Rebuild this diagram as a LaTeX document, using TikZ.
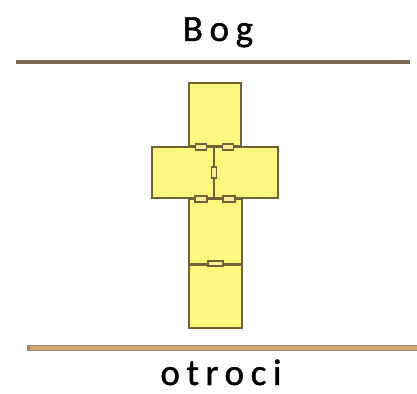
\documentclass[tikz,border=0pt]{standalone}
\usepackage{fontspec}
\setmainfont{Carlito}
\definecolor{tilefill}{RGB}{253,247,128}
\definecolor{tileedge}{RGB}{112,98,52}
\definecolor{hingefill}{RGB}{250,236,150}
\definecolor{topline}{RGB}{122,106,80}
\definecolor{baseedge}{RGB}{145,135,125}
\definecolor{basefill}{RGB}{214,166,112}
\begin{document}
\begin{tikzpicture}
		[x=1pt,y=-1pt,
		tile/.style={draw=tileedge,fill=tilefill,line width=2pt,
			inner sep=0pt,outer sep=0pt},
		hinge/.style={draw=tileedge,fill=hingefill,line width=1.6pt,
			inner sep=0pt,minimum width=11pt,minimum height=5.5pt},
		vhinge/.style={hinge,minimum width=5pt,minimum height=11pt},
		word/.style={font=\fontsize{37}{44}\selectfont\addfontfeatures{LetterSpace=18,FakeBold=1.2},
			inner sep=0pt,anchor=base}]
		\useasboundingbox[fill=white] (0,0) rectangle (417,393);
		\node[word] (bog) at (218,41) {Bog};
		\node[word] (otroci) at (221,385) {otroci};
		\draw[topline,line width=4.5pt] (16,62) -- (410,62);
		\draw[baseedge,line width=6.5pt] (27,348) -- (417,348);
		\draw[basefill,line width=3.6pt] (30,348) -- (417,348);
		\node[tile,minimum width=52pt,minimum height=63pt] (head) at (215,114.5) {};
		\node[tile,minimum width=62pt,minimum height=51pt] (armL) at (183,172.5) {};
		\node[tile,minimum width=64pt,minimum height=51pt] (armR) at (246,172.5) {};
		\node[tile,minimum width=53pt,minimum height=65pt] (body) at (215.5,231.5) {};
		\node[tile,minimum width=53pt,minimum height=63pt] (foot) at (215.5,296.5) {};
		\node[hinge] (h1) at ([xshift=-14pt,yshift=-1pt]head.south) {};
		\node[hinge] (h2) at ([xshift=13pt,yshift=-1pt]head.south) {};
		\node[vhinge] (h3) at (armL.east) {};
		\node[hinge,minimum width=12pt] (h4) at ([xshift=-14.5pt]body.north) {};
		\node[hinge,minimum width=12pt] (h5) at ([xshift=13.5pt]body.north) {};
		\node[hinge,minimum width=15pt] (h6) at ([yshift=0.5pt]body.south) {};
	\end{tikzpicture}
\end{document}
